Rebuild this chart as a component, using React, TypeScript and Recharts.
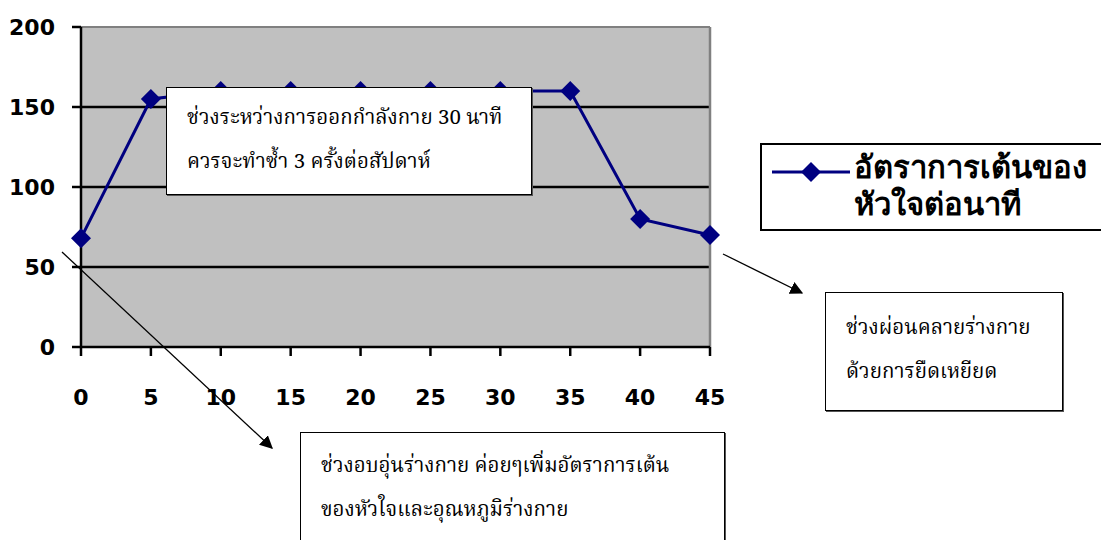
import React from 'react';
import {
  LineChart,
  Line,
  XAxis,
  YAxis,
  CartesianGrid,
  ReferenceLine,
} from 'recharts';

const minutes: number[] = [0, 5, 10, 15, 20, 25, 30, 35, 40, 45];
const heartRate: number[] = [68, 155, 160, 160, 160, 160, 160, 160, 80, 70];
const yTicks: number[] = [0, 50, 100, 150, 200];
const gridValues: number[] = [50, 100, 150];
const seriesName = 'อัตราการเต้นของหัวใจต่อนาที';
const legendLines: string[] = ['อัตราการเต้นของ', 'หัวใจต่อนาที'];
const noteExercise: string[] = ['ช่วงระหว่างการออกกำลังกาย 30 นาที', 'ควรจะทำซ้ำ 3 ครั้งต่อสัปดาห์'];
const noteCoolDown: string[] = ['ช่วงผ่อนคลายร่างกาย', 'ด้วยการยืดเหยียด'];
const noteWarmUp: string[] = ['ช่วงอบอุ่นร่างกาย ค่อยๆเพิ่มอัตราการเต้น', 'ของหัวใจและอุณหภูมิร่างกาย'];

const data = minutes.map((m, i) => ({ minute: m, rate: heartRate[i] }));

const NAVY = '#000080';
const THAI_SERIF = '"Noto Serif Thai", "Liberation Serif", "DejaVu Serif", serif';
const BOLD_SANS = '"DejaVu Sans", "Noto Sans", sans-serif';

const Diamond = (props: any) => {
  const { cx, cy } = props;
  if (cx == null || cy == null) return null;
  const r = 10;
  return (
    <polygon
      points={`${cx},${cy - r} ${cx + r},${cy} ${cx},${cy + r} ${cx - r},${cy}`}
      fill={NAVY}
    />
  );
};

const XTick = (props: any) => {
  const { x, y, payload } = props;
  return (
    <text x={x} y={y + 47} textAnchor="middle" fontFamily={BOLD_SANS} fontWeight="bold" fontSize={22} fill="#000">
      {payload.value}
    </text>
  );
};

const YTick = (props: any) => {
  const { x, y, payload } = props;
  return (
    <text x={x - 15} y={y + 8} textAnchor="end" fontFamily={BOLD_SANS} fontWeight="bold" fontSize={22} fill="#000">
      {payload.value}
    </text>
  );
};

const NoteBox = ({ left, top, width, height, lines, pad }: any) => (
  <div
    style={{
      position: 'absolute',
      left,
      top,
      width,
      height,
      boxSizing: 'border-box',
      background: '#fff',
      border: '1.5px solid #000',
      boxShadow: '1px 1px 0 #555',
      padding: `${pad}px 0 0 20px`,
      fontFamily: THAI_SERIF,
      fontSize: 20.5,
      lineHeight: '44px',
      color: '#000',
      whiteSpace: 'nowrap',
    }}
  >
    {lines.map((l: string) => (
      <div key={l}>{l}</div>
    ))}
  </div>
);

export default function App() {
  return (
    <div style={{ position: 'relative', width: 1101, height: 540, overflow: 'hidden', background: '#fff' }}>
      <style>{'body{margin:0}'}</style>
      <LineChart
        width={1101}
        height={540}
        data={data}
        margin={{ top: 27, right: 391, bottom: 0, left: 0 }}
      >
        <CartesianGrid horizontal={false} vertical={false} fill="#c0c0c0" />
        {gridValues.map((v) => (
          <ReferenceLine key={v} y={v} stroke="#000" strokeWidth={2.5} />
        ))}
        <ReferenceLine y={200} stroke="#808080" strokeWidth={2} />
        <ReferenceLine x={45} stroke="#808080" strokeWidth={2.5} />
        <XAxis
          dataKey="minute"
          type="number"
          domain={[0, 45]}
          ticks={minutes}
          interval={0}
          stroke="#000"
          strokeWidth={2.5}
          tickSize={9}
          tick={<XTick />}
          height={193}
        />
        <YAxis
          type="number"
          domain={[0, 200]}
          ticks={yTicks}
          interval={0}
          stroke="#000"
          strokeWidth={2.5}
          tickSize={9}
          tick={<YTick />}
          width={81}
        />
        <Line
          type="linear"
          dataKey="rate"
          name={seriesName}
          stroke={NAVY}
          strokeWidth={3}
          dot={<Diamond />}
          activeDot={false}
          isAnimationActive={false}
        />
      </LineChart>

      <svg width={1101} height={540} style={{ position: 'absolute', left: 0, top: 0, pointerEvents: 'none' }}>
        <defs>
          <marker id="arrow" viewBox="0 0 10 10" refX="9" refY="5" markerWidth="10" markerHeight="10" orient="auto">
            <path d="M0,0 L10,5 L0,10 z" fill="#000" />
          </marker>
        </defs>
        <line x1={62} y1={252} x2={272} y2={448} stroke="#000" strokeWidth={1.3} markerEnd="url(#arrow)" />
        <line x1={723} y1={254} x2={802} y2={293} stroke="#000" strokeWidth={1.3} markerEnd="url(#arrow)" />
      </svg>

      <NoteBox left={166} top={87} width={366} height={108} lines={noteExercise} pad={9} />
      <NoteBox left={825} top={292} width={238} height={119} lines={noteCoolDown} pad={14} />
      <NoteBox left={300} top={432} width={425} height={120} lines={noteWarmUp} pad={12} />

      <div
        style={{
          position: 'absolute',
          left: 760,
          top: 143,
          width: 360,
          height: 88,
          boxSizing: 'border-box',
          border: '2px solid #000',
          background: '#fff',
        }}
      >
        <svg width={90} height={40} style={{ position: 'absolute', left: 8, top: 6 }}>
          <line x1={2} y1={21} x2={80} y2={21} stroke={NAVY} strokeWidth={3} />
          <polygon points="41,11 51,21 41,31 31,21" fill={NAVY} />
        </svg>
        <div
          style={{
            position: 'absolute',
            left: 92,
            top: 4,
            fontFamily: BOLD_SANS,
            fontWeight: 'bold',
            fontSize: 31,
            lineHeight: '37px',
            color: '#000',
            whiteSpace: 'nowrap',
          }}
        >
          {legendLines.map((l) => (
            <div key={l}>{l}</div>
          ))}
        </div>
      </div>
    </div>
  );
}
